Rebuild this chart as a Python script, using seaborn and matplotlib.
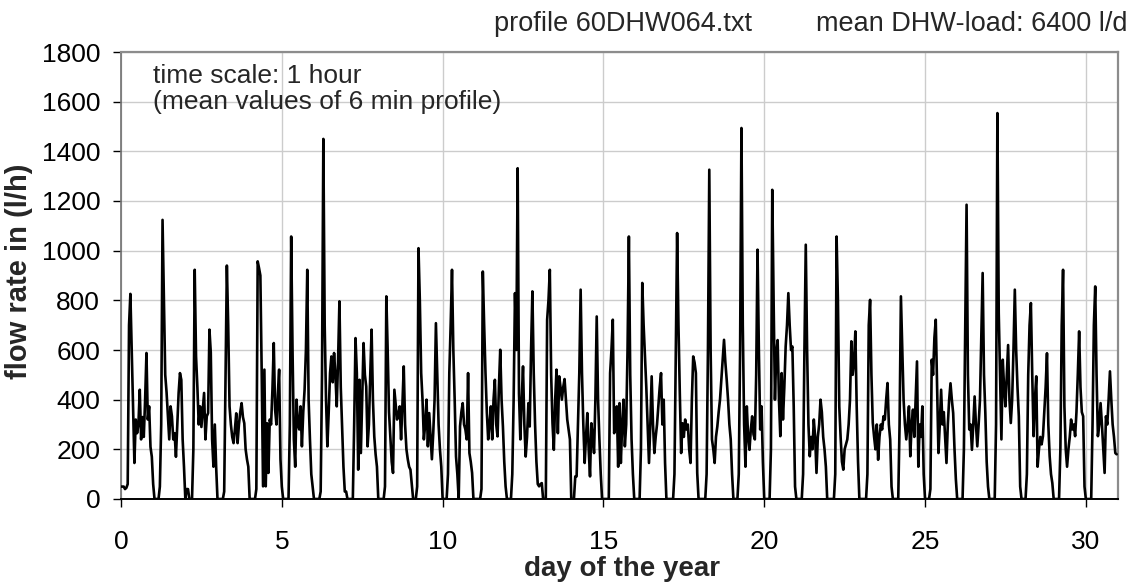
import numpy as np
import pandas as pd
import matplotlib
matplotlib.use("Agg")
import matplotlib.pyplot as plt
import seaborn as sns

# hourly mean flow rates (l/h), one list of 24 hours per day
day_00 = [50, 50, 50, 40, 45, 60, 700, 826, 600, 373, 145, 320, 265, 300, 440, 240, 330, 250, 400, 588, 320, 373, 210, 170]
day_01 = [60, 0, 0, 0, 0, 50, 300, 1124, 809, 500, 430, 333, 240, 373, 333, 240, 265, 170, 300, 427, 507, 480, 240, 130]
day_02 = [0, 40, 40, 0, 0, 0, 200, 923, 574, 450, 300, 373, 290, 360, 427, 240, 333, 346, 682, 590, 240, 130, 300, 130]
day_03 = [0, 0, 0, 0, 0, 30, 500, 940, 700, 373, 300, 250, 225, 280, 345, 225, 300, 350, 386, 330, 305, 200, 160, 130]
day_04 = [0, 0, 0, 0, 0, 40, 957, 930, 900, 507, 51, 521, 51, 305, 105, 320, 300, 440, 628, 360, 300, 420, 521, 160]
day_05 = [50, 0, 0, 0, 0, 0, 300, 1057, 600, 240, 130, 400, 300, 280, 373, 212, 350, 440, 600, 923, 400, 240, 100, 51]
day_06 = [0, 0, 0, 0, 0, 30, 500, 1450, 700, 400, 212, 350, 507, 574, 470, 588, 500, 373, 560, 796, 450, 292, 130, 30]
day_07 = [30, 0, 0, 0, 0, 0, 300, 648, 507, 118, 480, 185, 400, 628, 500, 453, 212, 300, 500, 682, 400, 252, 180, 130]
day_08 = [0, 0, 0, 0, 0, 50, 816, 600, 350, 250, 150, 105, 440, 380, 320, 340, 373, 240, 380, 534, 300, 200, 160, 130]
day_09 = [118, 60, 0, 0, 0, 50, 1010, 800, 507, 400, 240, 300, 400, 212, 346, 250, 160, 265, 400, 708, 500, 300, 200, 130]
day_10 = [0, 0, 0, 0, 100, 507, 700, 923, 600, 400, 171, 100, 0, 293, 350, 386, 300, 280, 240, 507, 185, 150, 105, 0]
day_11 = [0, 0, 0, 0, 0, 40, 916, 700, 507, 350, 240, 300, 373, 240, 400, 480, 300, 252, 450, 601, 400, 292, 150, 51]
day_12 = [0, 0, 0, 0, 100, 400, 829, 600, 1332, 424, 240, 400, 534, 300, 171, 250, 386, 292, 600, 836, 507, 300, 150, 60]
day_13 = [51, 60, 64, 0, 0, 0, 722, 800, 923, 500, 305, 198, 400, 521, 265, 494, 450, 400, 450, 483, 400, 320, 280, 240]
day_14 = [0, 0, 0, 91, 91, 300, 507, 843, 507, 300, 145, 250, 346, 200, 91, 305, 250, 185, 400, 735, 400, 240, 100, 0]
day_15 = [0, 0, 0, 0, 0, 507, 600, 722, 265, 300, 373, 130, 386, 145, 300, 400, 212, 300, 600, 1057, 500, 240, 100, 0]
day_16 = [0, 0, 0, 0, 200, 870, 700, 574, 450, 300, 145, 300, 494, 300, 185, 250, 300, 373, 450, 507, 300, 400, 145, 0]
day_17 = [0, 0, 0, 0, 0, 100, 600, 1071, 700, 427, 185, 305, 250, 320, 280, 300, 200, 145, 400, 574, 550, 507, 105, 0]
day_18 = [0, 0, 0, 0, 0, 100, 600, 1326, 600, 240, 200, 145, 250, 292, 350, 400, 480, 561, 641, 550, 480, 400, 300, 240]
day_19 = [100, 0, 0, 0, 0, 100, 600, 1494, 700, 300, 130, 373, 250, 198, 280, 333, 260, 240, 500, 1004, 600, 280, 373, 150]
day_20 = [0, 0, 0, 0, 0, 200, 1245, 800, 400, 588, 640, 400, 253, 507, 320, 450, 614, 700, 829, 700, 600, 614, 373, 50]
day_21 = [0, 0, 0, 0, 0, 100, 600, 1024, 600, 300, 172, 250, 200, 320, 250, 105, 250, 300, 400, 350, 250, 200, 130, 0]
day_22 = [0, 0, 0, 0, 0, 100, 1057, 800, 373, 250, 150, 118, 200, 220, 240, 300, 400, 635, 500, 550, 675, 373, 150, 0]
day_23 = [0, 0, 0, 0, 0, 100, 700, 802, 500, 307, 250, 200, 300, 158, 250, 300, 280, 333, 320, 400, 467, 300, 240, 50]
day_24 = [0, 0, 0, 0, 0, 300, 816, 600, 400, 300, 240, 300, 373, 172, 300, 360, 250, 400, 554, 130, 300, 250, 373, 100]
day_25 = [0, 0, 0, 0, 40, 561, 500, 650, 722, 450, 185, 300, 440, 300, 350, 250, 145, 300, 400, 466, 400, 346, 200, 80]
day_26 = [0, 0, 0, 0, 0, 200, 700, 1185, 500, 280, 300, 198, 300, 413, 300, 212, 300, 400, 650, 910, 500, 346, 150, 50]
day_27 = [0, 0, 0, 0, 0, 300, 1554, 750, 500, 240, 561, 450, 373, 500, 620, 400, 306, 400, 600, 843, 600, 450, 333, 50]
day_28 = [0, 0, 0, 0, 100, 500, 700, 789, 500, 253, 400, 494, 130, 200, 250, 220, 253, 350, 450, 587, 300, 172, 100, 64]
day_29 = [0, 0, 0, 0, 0, 200, 700, 923, 373, 200, 130, 200, 250, 320, 280, 300, 253, 350, 500, 675, 450, 350, 333, 50]
day_30 = [0, 0, 0, 0, 0, 300, 700, 856, 500, 253, 300, 386, 300, 200, 105, 333, 300, 400, 514, 400, 300, 250, 185, 180]

days = [day_00, day_01, day_02, day_03, day_04, day_05, day_06, day_07, day_08, day_09,
        day_10, day_11, day_12, day_13, day_14, day_15, day_16, day_17, day_18, day_19,
        day_20, day_21, day_22, day_23, day_24, day_25, day_26, day_27, day_28, day_29, day_30]

x_ticks = [0, 5, 10, 15, 20, 25, 30]
y_ticks = [0, 200, 400, 600, 800, 1000, 1200, 1400, 1600, 1800]

flow = np.concatenate([np.asarray(d, dtype=float) for d in days])
hour_index = np.arange(len(flow))
df = pd.DataFrame({"day": hour_index / 24.0, "flow": flow})

sns.set_theme(style="white")
plt.rcParams['font.family'] = ['Liberation Sans', 'DejaVu Sans']

W, H = 1138, 585
fig, ax = plt.subplots(figsize=(W / 100, H / 100), dpi=100)
fig.subplots_adjust(left=121 / W, right=1118 / W, bottom=(H - 499) / H, top=(H - 52) / H)

sns.lineplot(data=df, x="day", y="flow", color="black", linewidth=1.9,
             estimator=None, ax=ax, zorder=3)

ax.set_xlim(0, 31)
ax.set_ylim(0, 1800)
ax.set_xticks(x_ticks)
ax.set_yticks(y_ticks)
ax.grid(True, color="#cccccc", linewidth=1.0)
ax.set_axisbelow(True)

for side in ["top", "right"]:
    ax.spines[side].set_color("#8c8c8c")
    ax.spines[side].set_linewidth(1.6)
ax.spines["left"].set_color("#707070")
ax.spines["left"].set_linewidth(1.2)
ax.spines["bottom"].set_color("black")
ax.spines["bottom"].set_linewidth(1.4)

ax.tick_params(axis="both", direction="out", length=6, width=1, colors="black",
               labelsize=19, bottom=True, left=True)
ax.tick_params(axis="y", pad=9)
ax.tick_params(axis="x", pad=16)

ax.set_xlabel("day of the year", fontsize=20, fontweight="bold")
ax.set_ylabel("flow rate in (l/h)", fontsize=21, fontweight="bold")
ax.xaxis.set_label_coords(0.5025, -0.128)
ax.yaxis.set_label_coords(-0.088, 0.51)

fig.text(752 / W, 1 - 24 / H, "profile 60DHW064.txt", ha="right", va="center", fontsize=19.5)
fig.text(1128 / W, 1 - 24 / H, "mean DHW-load: 6400 l/d", ha="right", va="center", fontsize=19.5)

ax.text(0.032, 0.974, "time scale: 1 hour\n(mean values of 6 min profile)",
        transform=ax.transAxes, ha="left", va="top", fontsize=19, linespacing=1.15)

fig.savefig("out.png", dpi=100, facecolor="white")
